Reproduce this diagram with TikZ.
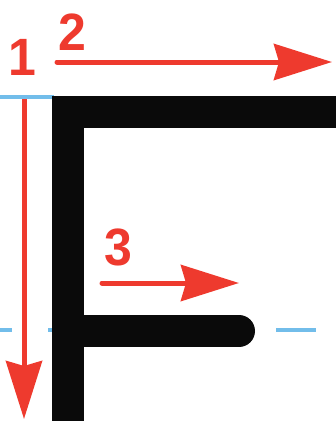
\documentclass[tikz,border=0pt]{standalone}
\usepackage{fontspec}
\setmainfont{Liberation Sans}
\usetikzlibrary{arrows.meta}
\definecolor{penred}{HTML}{EE3A2E}
\definecolor{guideblue}{HTML}{72BDEA}
\definecolor{inkblack}{HTML}{0A0A0A}
\tikzset{
  guide/.style={guideblue, line width=3.2pt},
  stroke/.style={inkblack, line width=32pt},
  dirarrow/.style={penred, line width=5pt, -{Stealth[length=58pt, width=36pt, inset=5pt]}},
  numlabel/.style={penred, font=\fontsize{50}{50}\selectfont\bfseries, inner sep=0pt, yscale=1.05}
}
\begin{document}
\begin{tikzpicture}[x=1pt, y=-1pt]
\useasboundingbox (0,0) rectangle (336,421);
% guide lines
\draw[guide] (0,97) -- (54,97);
\draw[guide, dash pattern=on 40pt off 36pt, dash phase=28pt] (0,330) -- (336,330);
% letter F strokes
\fill[inkblack] (52,96) rectangle (336,128);
\fill[inkblack] (52,96) rectangle (84,421);
\coordinate (barL) at (80,331);
\coordinate (barR) at (239,331);
\draw[stroke, line cap=round] (barL) -- (barR);
% arrows
\coordinate (a1s) at (24,99);
\coordinate (a1e) at (24,419);
\coordinate (a2s) at (57,62);
\coordinate (a2e) at (332,62);
\coordinate (a3s) at (102,283);
\coordinate (a3e) at (239,283);
\draw[dirarrow] (a1s) -- (a1e);
\draw[dirarrow, line cap=round] (a2s) -- (a2e);
\draw[dirarrow, line cap=round] (a3s) -- (a3e);
% labels
\node[numlabel] (n1) at (22,57) {1};
\node[numlabel] (n2) at (72,32) {2};
\node[numlabel] (n3) at (118,247) {3};
\end{tikzpicture}
\end{document}
